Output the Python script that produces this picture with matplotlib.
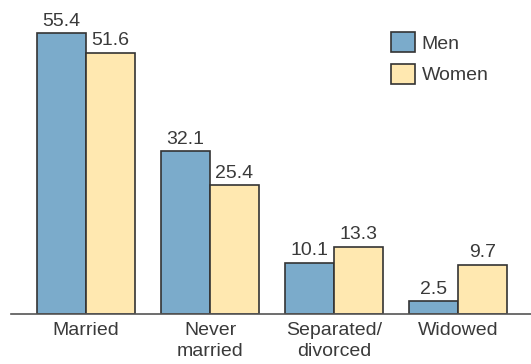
import matplotlib
matplotlib.use("Agg")
import matplotlib.pyplot as plt
import numpy as np

# marital status shares, percent
categories = ["Married", "Never\nmarried", "Separated/\ndivorced", "Widowed"]
men = [55.4, 32.1, 10.1, 2.5]
women = [51.6, 25.4, 13.3, 9.7]
series_names = ["Men", "Women"]

blue = "#7BABCB"
yellow = "#FFE8B0"
edge = "#333333"
text_col = "#3a3a3a"

plt.rcParams["font.family"] = ["Liberation Sans", "DejaVu Sans"]

fig = plt.figure(figsize=(5.31, 3.64), dpi=100)
ax = fig.add_axes([0.0, 50 / 364, 1.0, 314 / 364])

x = np.arange(len(categories))
w = 0.395
fs = 14

b1 = ax.bar(x - w / 2, men, w, color=blue, edgecolor=edge, linewidth=1.2, label=series_names[0])
b2 = ax.bar(x + w / 2, women, w, color=yellow, edgecolor=edge, linewidth=1.2, label=series_names[1])

for bars, vals in [(b1, men), (b2, women)]:
    for bar, v in zip(bars, vals):
        ax.annotate(f"{v}", (bar.get_x() + bar.get_width() / 2, v),
                    xytext=(0, 2.5), textcoords="offset points",
                    ha="center", va="bottom", fontsize=fs, color=text_col)

ax.set_xlim(-0.694, 3.589)
ax.set_ylim(0, 62)
ax.set_xticks(x)
ax.set_xticklabels(categories, fontsize=fs, color=text_col, linespacing=1.3)
ax.tick_params(axis="x", length=0, pad=5.5)
ax.set_yticks([])
for s in ["top", "right", "left"]:
    ax.spines[s].set_visible(False)
ax.spines["bottom"].set_color("#555555")
ax.spines["bottom"].set_linewidth(1.2)
ax.spines["bottom"].set_bounds(-0.605, 3.589)

leg = ax.legend(loc="upper left", bbox_to_anchor=(391 / 531, 1 - 32 / 314),
                frameon=False, fontsize=fs, handlelength=1.23, handleheight=1.23,
                labelspacing=0.56, handletextpad=0.35, borderaxespad=0, borderpad=0)
for t in leg.get_texts():
    t.set_color(text_col)

fig.savefig("out.png", dpi=100)
